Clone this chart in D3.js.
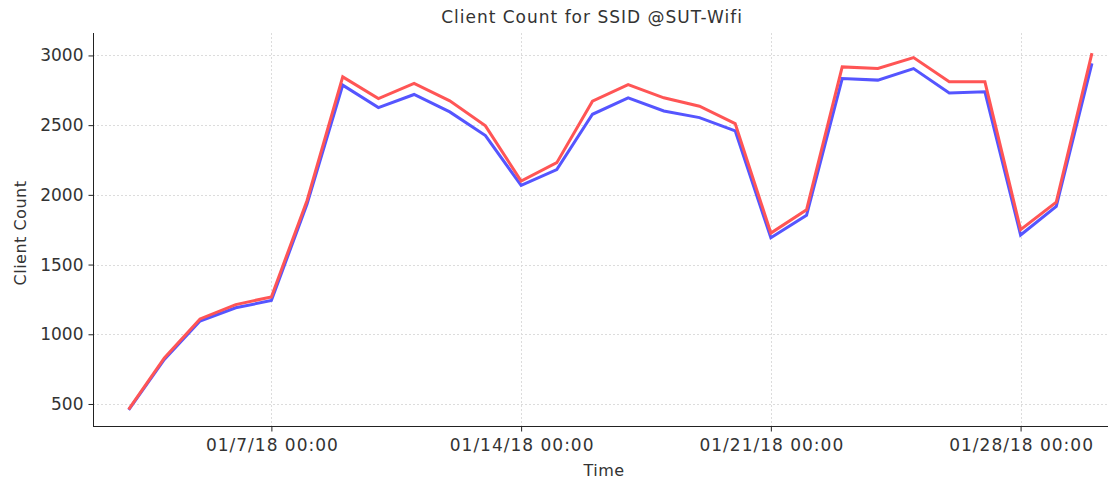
<!DOCTYPE html>
<html>
<head>
<meta charset="utf-8">
<script src="https://cdn.jsdelivr.net/npm/d3@7"></script>
<style>
  html, body { margin: 0; padding: 0; background: #fff; }
  svg { display: block; }
  text { font-family: "DejaVu Sans", Verdana, sans-serif; fill: #333; }
</style>
</head>
<body>
<svg id="chart" width="1109" height="484"></svg>
<script>
// ---- data ----
const dates = ["2018-01-03","2018-01-04","2018-01-05","2018-01-06","2018-01-07","2018-01-08","2018-01-09",
  "2018-01-10","2018-01-11","2018-01-12","2018-01-13","2018-01-14","2018-01-15","2018-01-16",
  "2018-01-17","2018-01-18","2018-01-19","2018-01-20","2018-01-21","2018-01-22","2018-01-23",
  "2018-01-24","2018-01-25","2018-01-26","2018-01-27","2018-01-28","2018-01-29","2018-01-30"];
const redValues = [462, 830, 1110, 1213, 1268, 1960, 2846, 2691, 2799, 2674, 2495, 2099, 2231, 2672,
  2791, 2696, 2636, 2511, 1726, 1893, 2918, 2906, 2985, 2811, 2811, 1750, 1948, 3016];
const blueValues = [458, 820, 1095, 1190, 1242, 1935, 2787, 2626, 2720, 2595, 2425, 2068, 2181, 2578,
  2696, 2602, 2554, 2459, 1692, 1853, 2834, 2823, 2906, 2731, 2739, 1712, 1917, 2943];
const yTicks = [500, 1000, 1500, 2000, 2500, 3000];
const xTickDates = ["2018-01-07","2018-01-14","2018-01-21","2018-01-28"];
const xTickLabels = ["01/7/18 00:00","01/14/18 00:00","01/21/18 00:00","01/28/18 00:00"];
const titleText = "Client Count for SSID @SUT-Wifi";
const xAxisTitle = "Time";
const yAxisTitle = "Client Count";

// ---- layout ----
const parse = s => { const [yy,m,d] = s.split("-").map(Number); return new Date(yy, m-1, d); };
const plotL = 93, plotR = 1108, plotT = 33, plotB = 426;
const svg = d3.select("#chart");

const x = d3.scaleTime()
  .domain([new Date(2018,0,2,0,0), new Date(2018,0,30,10,48)])
  .range([plotL, plotR]);
const y = d3.scaleLinear().domain([342, 3161]).range([plotB, plotT]);

// grid
const grid = svg.append("g");
grid.selectAll("line.h").data(yTicks).join("line")
  .attr("x1", plotL).attr("x2", plotR)
  .attr("y1", d => Math.round(y(d)) + 0.5).attr("y2", d => Math.round(y(d)) + 0.5)
  .attr("stroke", "#dcdcdc").attr("stroke-width", 1).attr("stroke-dasharray", "2,2");
grid.selectAll("line.v").data(xTickDates.map(parse)).join("line")
  .attr("y1", plotT).attr("y2", plotB)
  .attr("x1", d => Math.round(x(d)) + 0.5).attr("x2", d => Math.round(x(d)) + 0.5)
  .attr("stroke", "#dcdcdc").attr("stroke-width", 1).attr("stroke-dasharray", "2,2");

// lines
const line = d3.line().x((d, i) => x(parse(dates[i]))).y(d => y(d));
svg.append("path").datum(blueValues).attr("d", line)
  .attr("fill", "none").attr("stroke", "#5555ff").attr("stroke-width", 3).attr("stroke-linejoin", "miter");
svg.append("path").datum(redValues).attr("d", line)
  .attr("fill", "none").attr("stroke", "#ff5555").attr("stroke-width", 3).attr("stroke-linejoin", "miter");

// axes
const yAxis = d3.axisLeft(y).tickValues(yTicks).tickSize(5).tickPadding(5).tickFormat(d3.format("d"));
const gy = svg.append("g").attr("transform", `translate(${plotL + 0.5},0)`).call(yAxis);
gy.select(".domain").attr("d", `M0,${plotT}V${plotB + 0.5}`).attr("stroke", "#222");
gy.selectAll(".tick line").attr("stroke", "#222");
gy.selectAll(".tick text").attr("font-size", 17).attr("font-family", "DejaVu Sans").attr("fill", "#333");

const xAxis = d3.axisBottom(x).tickValues(xTickDates.map(parse)).tickSize(5).tickPadding(7)
  .tickFormat((d, i) => xTickLabels[i]);
const gx = svg.append("g").attr("transform", `translate(0,${plotB + 0.5})`).call(xAxis);
gx.select(".domain").attr("d", `M${plotL},0H${plotR}`).attr("stroke", "#222");
gx.selectAll(".tick line").attr("stroke", "#222");
gx.selectAll(".tick text").attr("font-size", 17).attr("font-family", "DejaVu Sans").attr("fill", "#333")
  .attr("letter-spacing", "1px").attr("dx", "0.5");

// titles
svg.append("text").attr("x", 592).attr("y", 23).attr("text-anchor", "middle")
  .attr("font-size", 17).attr("letter-spacing", "1px").text(titleText);
svg.append("text").attr("x", 604).attr("y", 476).attr("text-anchor", "middle")
  .attr("font-size", 16).attr("letter-spacing", "0.5px").text(xAxisTitle);
svg.append("text").attr("transform", "translate(26,233) rotate(-90)").attr("text-anchor", "middle")
  .attr("font-size", 16).attr("letter-spacing", "0.5px").text(yAxisTitle);
</script>
</body>
</html>
